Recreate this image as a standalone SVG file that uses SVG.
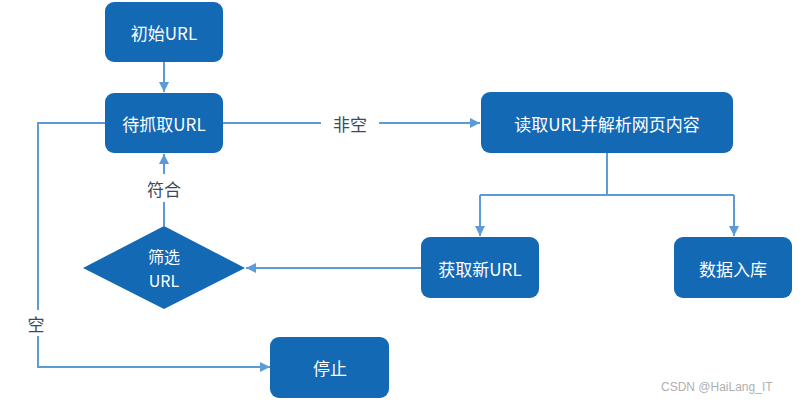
<svg xmlns="http://www.w3.org/2000/svg" width="802" height="402" viewBox="0 0 802 402">
<defs>
<style>
.box{fill:#1469b4;}
.t{fill:#ffffff;font-family:"Noto Sans CJK SC","Noto Sans",sans-serif;font-size:17px;text-anchor:middle;dominant-baseline:central;}
.c{fill:none;stroke:#5d9bd8;stroke-width:2;}
.lb{fill:#ffffff;}
.lt{fill:#3b4a5c;font-family:"Noto Sans CJK SC","Noto Sans",sans-serif;font-size:17px;text-anchor:middle;dominant-baseline:central;}
.wm{fill:#b0b0b0;font-family:"Liberation Sans",sans-serif;font-size:12px;}
</style>
<marker id="ah" viewBox="0 0 10 10" refX="10" refY="5" markerWidth="5" markerHeight="5" orient="auto" markerUnits="strokeWidth">
<path d="M0,0 L10,5 L0,10 z" fill="#5d9bd8"/>
</marker>
</defs>
<rect width="802" height="402" fill="#ffffff"/>
<g id="connectors">
<path class="c" d="M164,62 V92" marker-end="url(#ah)"/>
<path class="c" d="M223,123 H480" marker-end="url(#ah)"/>
<path class="c" d="M607,153 V195 M480,195 H734"/>
<path class="c" d="M480,195 V236" marker-end="url(#ah)"/>
<path class="c" d="M734,195 V236" marker-end="url(#ah)"/>
<path class="c" d="M421,268 H246" marker-end="url(#ah)"/>
<path class="c" d="M164,226 V154" marker-end="url(#ah)"/>
<path class="c" d="M105,123 H38 V367 H270" marker-end="url(#ah)"/>
<rect class="lb" x="321" y="110" width="58" height="26"/>
<text class="lt" x="350" y="123">非空</text>
<rect class="lb" x="135" y="174" width="58" height="28"/>
<text class="lt" x="164" y="188">符合</text>
<rect class="lb" x="24" y="310" width="28" height="26"/>
<text class="lt" x="36" y="323">空</text>
</g>
<g id="n1"><rect class="box" x="105" y="2" width="118" height="60" rx="9"/><text class="t" x="164" y="32">初始URL</text></g>
<g id="n2"><rect class="box" x="105" y="93" width="118" height="60" rx="9"/><text class="t" x="164" y="123">待抓取URL</text></g>
<g id="n3"><rect class="box" x="481" y="92" width="252" height="61" rx="9"/><text class="t" x="607" y="123">读取URL并解析网页内容</text></g>
<g id="n4"><rect class="box" x="421" y="237" width="118" height="61" rx="9"/><text class="t" x="480" y="268">获取新URL</text></g>
<g id="n5"><rect class="box" x="674" y="237" width="118" height="61" rx="9"/><text class="t" x="733" y="268">数据入库</text></g>
<g id="n6"><path class="box" d="M164,226 L245,268 L164,309 L83,268 Z"/><text class="t" x="164" y="256" style="font-size:16px">筛选</text><text class="t" x="164" y="280" style="font-size:16px">URL</text></g>
<g id="n7"><rect class="box" x="270" y="337" width="119" height="61" rx="9"/><text class="t" x="330" y="367">停止</text></g>
<text class="wm" x="661" y="391">CSDN @HaiLang_IT</text>
</svg>
